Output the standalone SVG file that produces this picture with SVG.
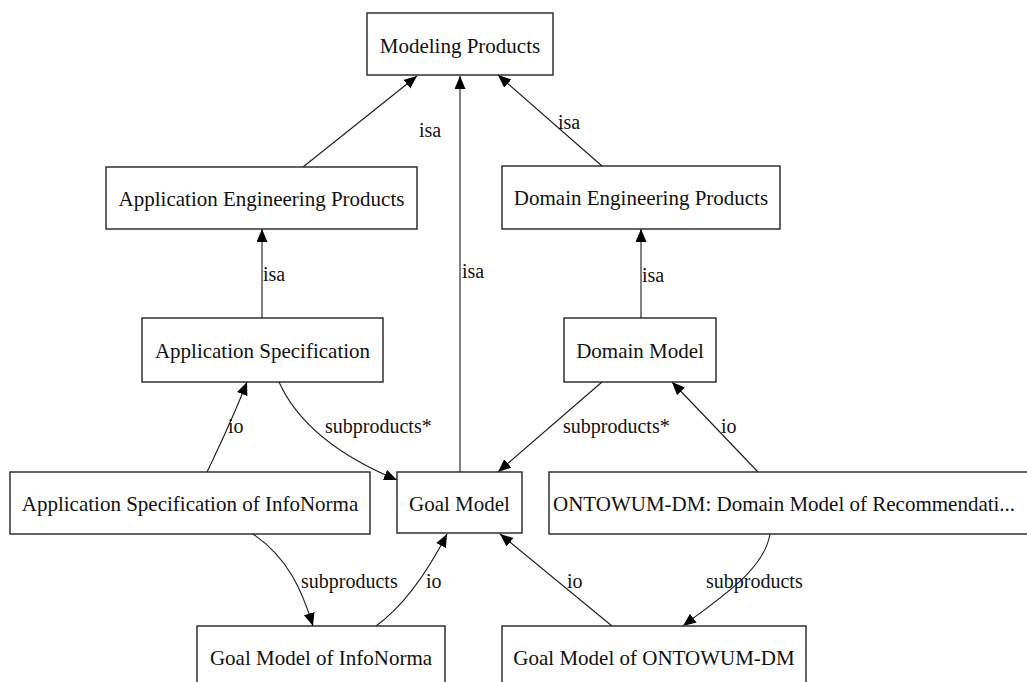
<svg xmlns="http://www.w3.org/2000/svg" width="1027" height="682" viewBox="0 0 1027 682" font-family="'Liberation Serif', 'Times New Roman', Times, serif">
  <style>
    .box { fill: #ffffff; stroke: #222222; stroke-width: 1.4; }
    .name { font-size: 21px; fill: #111111; }
    .edge { fill: none; stroke: #1a1a1a; stroke-width: 1.1; marker-end: url(#head); }
    .lbl { font-size: 20px; fill: #111111; }
  </style>
  <defs>
    <!-- filled triangular arrowhead, tip on the end of the path -->
    <marker id="head" markerUnits="userSpaceOnUse" markerWidth="14" markerHeight="12" refX="13" refY="5.5" orient="auto">
      <path d="M0,0 L13,5.5 L0,11 z" fill="#000000"/>
    </marker>
  </defs>
  <rect width="1027" height="682" fill="#ffffff"/>

  <!-- connectors -->
  <g id="edges">
    <path class="edge" d="M303,167 L417,76"/>
    <text class="lbl" x="419" y="137">isa</text>
    <path class="edge" d="M460,472 L460,76"/>
    <text class="lbl" x="462" y="278">isa</text>
    <path class="edge" d="M602,166 L498,75"/>
    <text class="lbl" x="558" y="129">isa</text>
    <path class="edge" d="M262,318 L262,229"/>
    <text class="lbl" x="263" y="281">isa</text>
    <path class="edge" d="M641,318 L641,229"/>
    <text class="lbl" x="642" y="282">isa</text>
    <path class="edge" d="M279,382 C297,422 337,455 397,480"/>
    <text class="lbl" x="325" y="433">subproducts*</text>
    <path class="edge" d="M602,382 L498,472"/>
    <text class="lbl" x="563" y="433">subproducts*</text>
    <path class="edge" d="M207,472 C220,445 236,410 247,382"/>
    <text class="lbl" x="228" y="433">io</text>
    <path class="edge" d="M758,472 L672,382"/>
    <text class="lbl" x="721" y="433">io</text>
    <path class="edge" d="M253,534 C288,558 302,590 313,626"/>
    <text class="lbl" x="301" y="588">subproducts</text>
    <path class="edge" d="M376,626 C405,605 430,567 447,534"/>
    <text class="lbl" x="426" y="588">io</text>
    <path class="edge" d="M612,626 L500,534"/>
    <text class="lbl" x="567" y="588">io</text>
    <path class="edge" d="M770,534 C764,570 722,596 683,626"/>
    <text class="lbl" x="706" y="588">subproducts</text>
  </g>

  <g id="modeling-products">
    <rect class="box" x="367" y="13" width="186" height="62"/>
    <text class="name" x="460" y="53" text-anchor="middle">Modeling Products</text>
  </g>
  <g id="application-engineering-products">
    <rect class="box" x="106" y="167" width="311" height="62"/>
    <text class="name" x="261.5" y="206" text-anchor="middle">Application Engineering Products</text>
  </g>
  <g id="domain-engineering-products">
    <rect class="box" x="502" y="166" width="278" height="63"/>
    <text class="name" x="641" y="205" text-anchor="middle">Domain Engineering Products</text>
  </g>
  <g id="application-specification">
    <rect class="box" x="142" y="318" width="241" height="64"/>
    <text class="name" x="262.5" y="358" text-anchor="middle">Application Specification</text>
  </g>
  <g id="domain-model">
    <rect class="box" x="564" y="318" width="152" height="64"/>
    <text class="name" x="640" y="358" text-anchor="middle">Domain Model</text>
  </g>
  <g id="application-specification-of-infonorma">
    <rect class="box" x="10" y="472" width="360" height="62"/>
    <text class="name" x="190" y="511" text-anchor="middle">Application Specification of InfoNorma</text>
  </g>
  <g id="goal-model">
    <rect class="box" x="397" y="472" width="125" height="61"/>
    <text class="name" x="459.5" y="511" text-anchor="middle">Goal Model</text>
  </g>
  <g id="ontowum-dm">
    <rect class="box" x="549" y="472" width="490" height="62"/>
    <text class="name" x="553" y="511">ONTOWUM-DM: Domain Model of Recommendati...</text>
  </g>
  <g id="goal-model-of-infonorma">
    <rect class="box" x="197" y="626" width="248" height="62"/>
    <text class="name" x="321" y="665" text-anchor="middle">Goal Model of InfoNorma</text>
  </g>
  <g id="goal-model-of-ontowum-dm">
    <rect class="box" x="502" y="626" width="304" height="62"/>
    <text class="name" x="654" y="665" text-anchor="middle">Goal Model of ONTOWUM-DM</text>
  </g>
</svg>
